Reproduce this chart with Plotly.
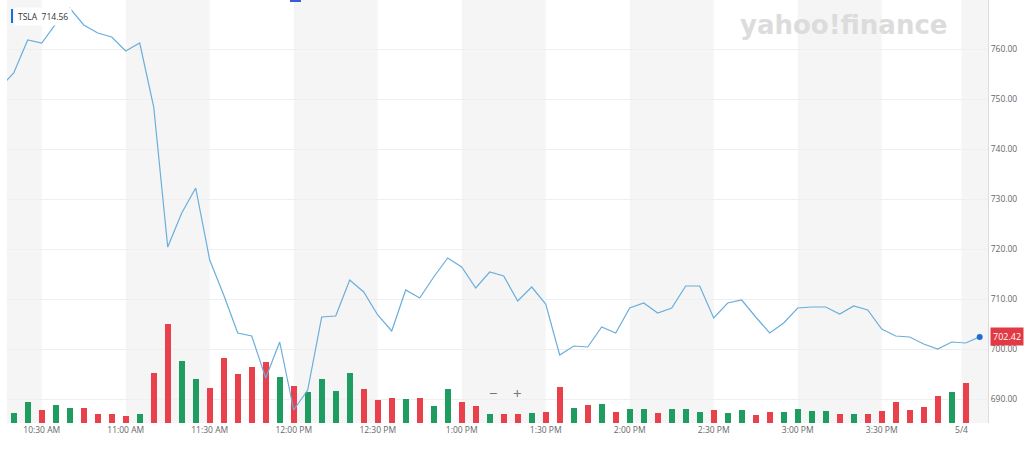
import pandas as pd
import plotly.graph_objects as go

# ---------------- data ----------------
day = "2021-05-03"
price_times = pd.date_range(f"{day} 10:15", f"{day} 16:05", freq="5min")
prices = [752.2,
          755.2, 761.8, 761.2, 765.0, 768.2, 764.8, 763.2, 762.4, 759.6, 761.2,
          748.4, 720.4, 727.2, 732.2, 717.8, 710.8, 703.2, 702.6, 694.2, 701.4,
          687.8, 691.8, 706.4, 706.6, 713.8, 711.4, 706.8, 703.6, 711.8, 710.2,
          714.4, 718.2, 716.4, 712.2, 715.4, 714.6, 709.6, 712.4, 709.0, 698.8,
          700.6, 700.4, 704.4, 703.2, 708.2, 709.2, 707.2, 708.2, 712.6, 712.6,
          706.2, 709.2, 709.8, 706.4, 703.2, 705.2, 708.2, 708.4, 708.4, 707.0,
          708.6, 707.8, 704.0, 702.6, 702.4, 701.0, 700.0, 701.4, 701.2,
          702.42]

vol_times = pd.date_range(f"{day} 10:20", f"{day} 16:00", freq="5min")
volumes_k = [200, 420, 260, 360, 300, 300, 180, 180, 140, 180,
             1000, 1980, 1240, 880, 700, 1300, 980, 1120, 1220, 920,
             740, 620, 880, 640, 1000, 680, 460, 500, 480, 500,
             340, 680, 420, 340, 180, 180, 180, 200, 220, 720,
             300, 360, 380, 220, 280, 280, 200, 280, 280, 220,
             260, 200, 260, 160, 220, 220, 280, 240, 240, 180,
             180, 180, 240, 420, 260, 320, 540, 620, 800]
vol_dir = list("GGRGGRRRRG" "RRGGRRRRRG" "RGGGGRRRGR" "GGRRGRRGRR"
               "GRGRGGRGGG" "RGGRRGGGGR" "GRRRRRRGR")

tick_times = [f"{day} 10:30", f"{day} 11:00", f"{day} 11:30", f"{day} 12:00",
              f"{day} 12:30", f"{day} 13:00", f"{day} 13:30", f"{day} 14:00",
              f"{day} 14:30", f"{day} 15:00", f"{day} 15:30", f"{day} 15:58:30"]
tick_labels = ["10:30 AM", "11:00 AM", "11:30 AM", "12:00 PM", "12:30 PM", "1:00 PM",
               "1:30 PM", "2:00 PM", "2:30 PM", "3:00 PM", "3:30 PM", "5/4"]
price_ticks = [690, 700, 710, 720, 730, 740, 750, 760]

band_starts = [f"{day} 10:00", f"{day} 11:00", f"{day} 12:00", f"{day} 13:00",
               f"{day} 14:00", f"{day} 15:00", f"{day} 15:58:30"]
band_ends = [f"{day} 10:30", f"{day} 11:30", f"{day} 12:30", f"{day} 13:30",
             f"{day} 14:30", f"{day} 15:30", f"{day} 16:30"]

symbol = "TSLA"
hover_value = "714.56"
last_price = prices[-1]

GREEN = "#1f9d60"
RED = "#e8414b"
LINE = "#6aaedc"
FONT = "Open Sans"

# ---------------- figure ----------------
fig = go.Figure()

fig.add_trace(go.Bar(
    x=vol_times, y=volumes_k,
    marker=dict(color=[GREEN if d == "G" else RED for d in vol_dir], line=dict(width=0)),
    width=128000, yaxis="y", hoverinfo="skip", showlegend=False,
))

fig.add_trace(go.Scatter(
    x=price_times, y=prices, mode="lines",
    line=dict(color=LINE, width=1.2), yaxis="y2", showlegend=False,
))
fig.add_trace(go.Scatter(
    x=[price_times[-1]], y=[last_price], mode="markers",
    marker=dict(color="#1a6fd6", size=6), yaxis="y2", showlegend=False,
))

shapes = []
for s, e in zip(band_starts, band_ends):
    shapes.append(dict(type="rect", xref="x", yref="paper", x0=s, x1=e, y0=0, y1=1,
                       fillcolor="#f5f5f5", line=dict(width=0), layer="below"))
# legend marker bar
shapes.append(dict(type="rect", xref="paper", yref="paper",
                   x0=(11 - 7) / 981, x1=(13 - 7) / 981,
                   y0=1 - 23 / 423, y1=1 - 9 / 423,
                   fillcolor="#1a6fd6", line=dict(width=0), layer="above"))
# small scroll marker at top
shapes.append(dict(type="rect", xref="paper", yref="paper",
                   x0=(290 - 7) / 981, x1=(301 - 7) / 981,
                   y0=1 - 2 / 423, y1=1.0,
                   fillcolor="#3b5bdb", line=dict(width=0), layer="above"))

annotations = [
    dict(xref="paper", yref="paper", x=(14 - 7) / 981, y=1 - 16 / 423,
         xanchor="left", yanchor="middle",
         text=f"{symbol}  {hover_value}", showarrow=False,
         font=dict(family=FONT, size=8.5, color="#333333"),
         bgcolor="rgba(255,255,255,0.95)", borderpad=3),
    dict(xref="paper", yref="paper", x=(843 - 7) / 981, y=1 - 25 / 423,
         xanchor="center", yanchor="middle", text="<b>yahoo!finance</b>",
         showarrow=False, font=dict(family="DejaVu Sans", size=26, color="#dcdcdc")),
    dict(xref="paper", yref="y2", x=1, y=last_price, xanchor="left", yanchor="middle",
         xshift=2, text=f"{last_price:.2f}", showarrow=False,
         font=dict(family=FONT, size=9, color="white"), bgcolor="#e23a44", borderpad=2),
    dict(xref="paper", yref="paper", x=(493 - 7) / 981, y=1 - 405 / 423,
         text="−", showarrow=False, font=dict(family=FONT, size=15, color="#777777")),
    dict(xref="paper", yref="paper", x=(517 - 7) / 981, y=1 - 405 / 423,
         text="+", showarrow=False, font=dict(family=FONT, size=15, color="#777777")),
]

fig.update_layout(
    width=1024, height=449,
    margin=dict(l=7, r=36, t=0, b=26),
    paper_bgcolor="white", plot_bgcolor="white",
    bargap=0,
    xaxis=dict(type="date",
               range=[f"{day} 10:17:36", f"{day} 16:07:58"],
               tickvals=tick_times, ticktext=tick_labels,
               showgrid=False, zeroline=False, showline=False, ticks="",
               tickfont=dict(family=FONT, size=8.5, color="#666666")),
    yaxis=dict(range=[0, 8460], visible=False, showgrid=False, fixedrange=True),
    yaxis2=dict(overlaying="y", side="right", range=[685.2, 769.8],
                tickvals=price_ticks, tickformat=".2f",
                showgrid=True, gridcolor="#efefef", gridwidth=1,
                zeroline=False, showline=True, linecolor="#dddddd", linewidth=1,
                ticks="", tickfont=dict(family=FONT, size=8.5, color="#666666")),
    shapes=shapes, annotations=annotations,
    hovermode=False,
)

fig.write_html("out.html",
               config={"displayModeBar": False, "staticPlot": True},
               post_script="document.body.style.margin='0';document.body.style.overflow='hidden';")
